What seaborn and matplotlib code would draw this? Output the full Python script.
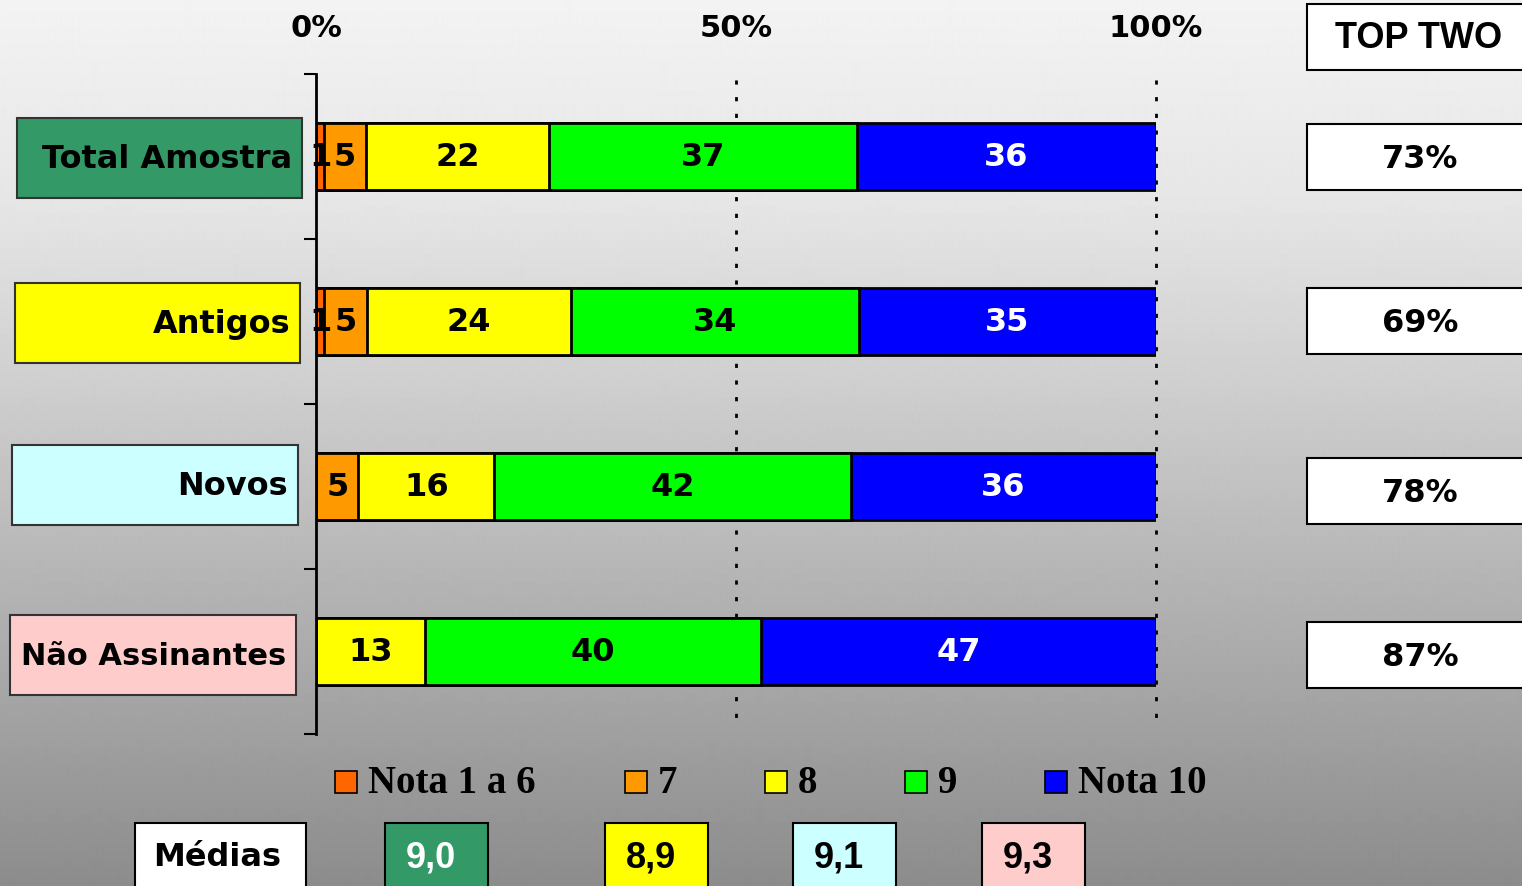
import numpy as np
import pandas as pd
import matplotlib
matplotlib.use("Agg")
import matplotlib.pyplot as plt
from matplotlib.patches import Rectangle
import seaborn as sns

# === data ===
groups = ["Total Amostra", "Antigos", "Novos", "Não Assinantes"]
series = ["Nota 1 a 6", "7", "8", "9", "Nota 10"]
nota_1a6 = [1, 1, 0, 0]
nota_7 = [5, 5, 5, 0]
nota_8 = [22, 24, 16, 13]
nota_9 = [37, 34, 42, 40]
nota_10 = [36, 35, 36, 47]
top_two = ["73%", "69%", "78%", "87%"]
medias = ["9,0", "8,9", "9,1", "9,3"]

colors = ["#FF6600", "#FF9900", "#FFFF00", "#00FF00", "#0000FF"]
group_colors = ["#339966", "#FFFF00", "#CCFFFF", "#FFCCCC"]

W, H = 1522, 887
sns.set_style("white")
plt.rcParams["font.family"] = ["DejaVu Sans"]
plt.rcParams["text.color"] = "black"
plt.rcParams["xtick.color"] = "black"
plt.rcParams["ytick.color"] = "black"

df = pd.DataFrame({"grupo": groups, series[0]: nota_1a6, series[1]: nota_7,
                   series[2]: nota_8, series[3]: nota_9, series[4]: nota_10})
vals = df[series]
pct = vals.div(vals.sum(axis=1), axis=0) * 100  # rounded values -> full 100%
cum = pct.cumsum(axis=1)

fig = plt.figure(figsize=(W / 100, H / 100), dpi=100)


def fx(px):
    return px / W


def fy(py):
    return 1 - py / H


# background gradient
bg = fig.add_axes([0, 0, 1, 1], zorder=-10)
ys = np.arange(H)
shade = np.interp(ys, [0, 200, 400, 600, 887], [243, 230, 205, 178, 140]) / 255
bg.imshow(np.tile(shade[:, None], (1, 4)), cmap="gray", vmin=0, vmax=1,
          aspect="auto", extent=[0, 1, 0, 1], interpolation="bilinear")
bg.set_axis_off()

ax = fig.add_axes([fx(316), fy(735), fx(1156) - fx(316), fy(75) - fy(735)])
ax.patch.set_alpha(0)

# stacked bars: draw cumulative from the longest down
for i in range(len(series) - 1, -1, -1):
    sns.barplot(x=cum[series[i]], y=df["grupo"], orient="h", color=colors[i],
                edgecolor="black", linewidth=2, width=0.406, saturation=1, ax=ax)

for r in range(len(groups)):
    left = 0
    for i, s in enumerate(series):
        w = pct.loc[r, s]
        v = vals.loc[r, s]
        if v > 0:
            ax.text(left + w / 2, r, str(v), ha="center", va="center",
                    fontsize=23, fontweight="bold",
                    color="white" if i == 4 else "black", zorder=5)
        left += w

ax.set_xlim(0, 100)
ax.set_ylim(3.5, -0.5)
for xv in (50, 100):
    ax.axvline(xv, ymin=0.016, ymax=1, color="black", lw=2,
               linestyle=(4, (1.5, 4.5)), zorder=0, clip_on=False)

ax.xaxis.tick_top()
ax.set_xticks([0, 50, 100])
ax.set_xticklabels(["0%", "50%", "100%"], fontsize=22, fontweight="bold")
ax.tick_params(axis="x", length=0, pad=23)
ax.set_yticks([-0.5, 0.5, 1.5, 2.5, 3.5])
ax.set_yticklabels([])
ax.tick_params(axis="y", length=9, width=1.5, direction="out", left=True)
ax.set_xlabel("")
ax.set_ylabel("")
for side in ("top", "right", "bottom"):
    ax.spines[side].set_visible(False)
ax.spines["left"].set_linewidth(2)
ax.spines["left"].set_color("black")


def box(x0, y0, x1, y1, face, edge="black", lw=1.5):
    fig.patches.append(Rectangle((fx(x0), fy(y1)), fx(x1) - fx(x0), fy(y0) - fy(y1),
                                 transform=fig.transFigure, facecolor=face,
                                 edgecolor=edge, linewidth=lw, zorder=1))


# group label boxes on the left
left_boxes = [(17, 119, 302, 199), (15, 284, 300, 364),
              (12, 446, 298, 526), (10, 616, 296, 696)]
label_sizes = [23, 23, 23, 22]
for (x0, y0, x1, y1), g, c, fs in zip(left_boxes, groups, group_colors, label_sizes):
    box(x0, y0, x1, y1, c, edge="#333333")
    fig.text(fx(x1 - 10), fy((y0 + y1) / 2 + 1), g, ha="right", va="center",
             fontsize=fs, fontweight="bold", color="black")

# TOP TWO column
box(1307, 5, 1540, 71, "white")
fig.text(fx(1419), fy(39), "TOP TWO", ha="center", va="center", fontsize=26,
         fontweight="bold", family=["Liberation Sans", "DejaVu Sans"])
for (y0, y1), t in zip([(125, 191), (289, 355), (459, 525), (623, 689)], top_two):
    box(1307, y0, 1540, y1, "white")
    fig.text(fx(1420), fy((y0 + y1) / 2 + 2), t, ha="center", va="center",
             fontsize=23, fontweight="bold")

# legend
leg_x = [335, 625, 765, 905, 1045]
for lx, s, c in zip(leg_x, series, colors):
    box(lx, 772, lx + 22, 794, c, lw=1.2)
    fig.text(fx(lx + 33), fy(784), s, ha="left", va="center", fontsize=28,
             fontweight="bold", family=["Liberation Serif", "DejaVu Serif"])

# médias row
box(135, 824, 306, 900, "white")
fig.text(fx(217), fy(858), "Médias", ha="center", va="center", fontsize=23,
         fontweight="bold")
med_x = [385, 605, 793, 982]
for mx, m, c in zip(med_x, medias, group_colors):
    box(mx, 824, mx + 103, 900, c)
    fig.text(fx(mx + 46), fy(858), m, ha="center", va="center", fontsize=26,
             fontweight="bold", family=["Liberation Sans", "DejaVu Sans"],
             color="white" if c == "#339966" else "black")

fig.savefig("out.png", dpi=100)
